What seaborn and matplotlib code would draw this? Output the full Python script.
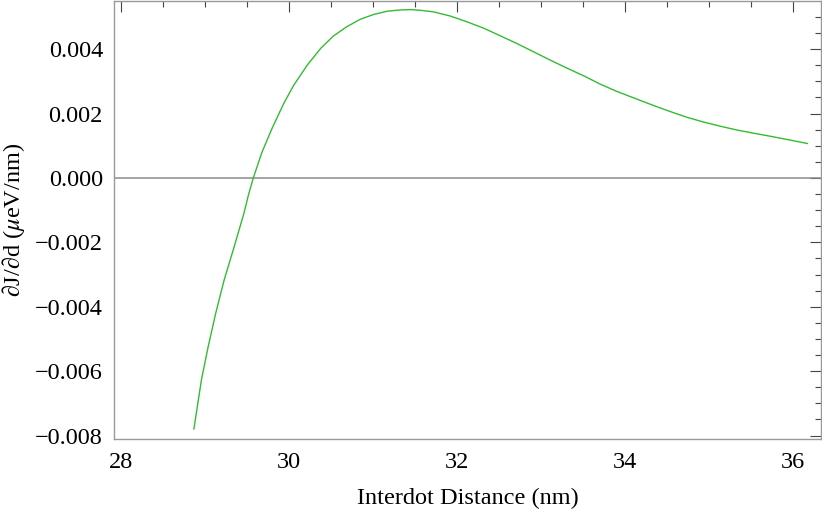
import numpy as np
import pandas as pd
import matplotlib
matplotlib.use("Agg")
import matplotlib.pyplot as plt
import seaborn as sns
from matplotlib.ticker import MultipleLocator, FuncFormatter

# Data
distance_nm = [28.87, 28.96, 29.04, 29.13, 29.23, 29.35, 29.465, 29.52, 29.577, 29.68,
               29.80, 29.94, 30.06, 30.22, 30.38, 30.53, 30.69, 30.85, 31.01,
               31.17, 31.33, 31.45, 31.56, 31.72, 31.92, 32.12, 32.32, 32.52,
               32.71, 32.91, 33.11, 33.31, 33.51, 33.70, 33.90, 34.14, 34.34,
               34.54, 34.73, 34.93, 35.13, 35.33, 35.53, 35.72, 35.92, 36.17]
dJ_dd = [-0.00780, -0.00627, -0.00524, -0.00420, -0.00317, -0.00213, -0.00110,
         -0.00052, 0.0, 0.00080, 0.00154, 0.00232, 0.00289, 0.00351, 0.00403, 0.00441,
         0.00470, 0.00493, 0.00508, 0.00518, 0.00522, 0.00523, 0.00521, 0.00516,
         0.00503, 0.00485, 0.00465, 0.00441, 0.00418, 0.00392, 0.00366, 0.00341,
         0.00317, 0.00292, 0.00269, 0.00245, 0.00225, 0.00206, 0.00189, 0.00174,
         0.00161, 0.00149, 0.00139, 0.00130, 0.00120, 0.00107]

df = pd.DataFrame({"d": distance_nm, "v": dJ_dd})

sns.set_theme(style="white")
plt.rcParams['font.family'] = ['Liberation Serif', 'DejaVu Serif']
plt.rcParams['mathtext.fontset'] = 'stix'

fig = plt.figure(figsize=(8.22, 5.14), dpi=100)
ax = fig.add_axes([114/822, 1-439/514, (821-114)/822, (439-1)/514])

ax.axhline(0, color='#8a8a8a', lw=1.1, zorder=1)
sns.lineplot(data=df, x="d", y="v", ax=ax, color='#33bb33', lw=1.0, sort=False, zorder=3)

ax.set_xlim(27.92, 36.33)
ax.set_ylim(-0.008106, 0.005497)

ax.xaxis.set_major_locator(MultipleLocator(2))
ax.xaxis.set_minor_locator(MultipleLocator(0.5))
ax.yaxis.set_major_locator(MultipleLocator(0.002))
ax.yaxis.set_minor_locator(MultipleLocator(0.0005))

def yfmt(v, pos):
    s = "%.3f" % v
    if s == "-0.000":
        s = "0.000"
    return s.replace('-', '\u2212')

ax.yaxis.set_major_formatter(FuncFormatter(yfmt))
ax.xaxis.set_major_formatter(FuncFormatter(lambda v, p: "%d" % round(v)))

for sp in ax.spines.values():
    sp.set_color('#999999')
    sp.set_linewidth(1.0)

ax.tick_params(which='both', direction='in', top=True, right=True,
               color='#444444', width=0.8, labelsize=17.5, labelcolor='black')
ax.tick_params(which='major', length=8, pad=8)
ax.tick_params(which='minor', length=4.5)
ax.tick_params(axis='x', which='major', pad=9)

ax.set_xlabel("Interdot Distance (nm)", fontsize=17.5, labelpad=11, color='black')
ax.set_ylabel("\u2202J/\u2202d ($\\mu$eV/nm)", fontsize=17.5, labelpad=6, color='black')

fig.savefig("out.png", dpi=100)
